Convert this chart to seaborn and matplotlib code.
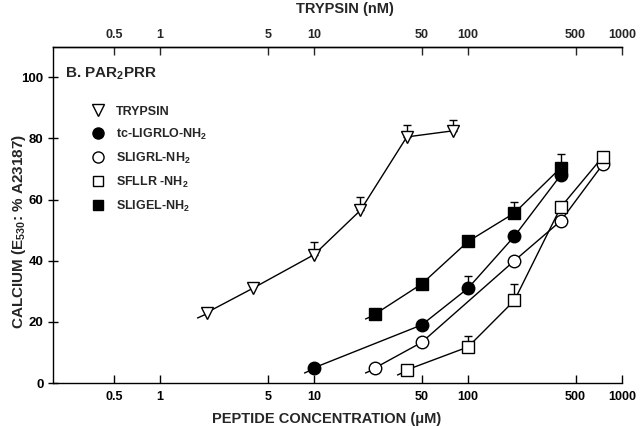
import numpy as np
import pandas as pd
import matplotlib
matplotlib.use("Agg")
import matplotlib.pyplot as plt
import seaborn as sns
from matplotlib.lines import Line2D
from matplotlib.path import Path

# ---- data ----
tryp_x = [2, 4, 10, 20, 40, 80]
tryp_y = [23, 31, 42, 56.5, 80.5, 82.5]
tryp_err = [np.nan, np.nan, 4, 4.5, 4, 3.5]

tc_x = [10, 50, 100, 200, 400]
tc_y = [5, 19, 31, 48, 68]
tc_err = [np.nan, np.nan, 4, np.nan, 4]

sligrl_x = [25, 50, 200, 400, 750]
sligrl_y = [5, 13.3, 40, 53, 71.5]
sligrl_err = [np.nan, np.nan, np.nan, np.nan, np.nan]

sfllr_x = [40, 100, 200, 400, 750]
sfllr_y = [4.3, 11.8, 27, 57.5, 74]
sfllr_err = [np.nan, 3.5, 5.5, np.nan, np.nan]

sligel_x = [25, 50, 100, 200, 400]
sligel_y = [22.6, 32.4, 46.3, 55.6, 70.4]
sligel_err = [np.nan, np.nan, np.nan, 3.5, 4.5]

series_names = ["TRYPSIN", "tc-LIGRLO-NH$_2$", "SLIGRL-NH$_2$", "SFLLR -NH$_2$", "SLIGEL-NH$_2$"]
xticks = [0.5, 1, 5, 10, 50, 100, 500, 1000]
xticklabels = ["0.5", "1", "5", "10", "50", "100", "500", "1000"]
yticks = [0, 20, 40, 60, 80, 100]

sns.set_style("ticks")
plt.rcParams["font.family"] = ["Liberation Sans", "DejaVu Sans"]
plt.rcParams["mathtext.fontset"] = "custom"
plt.rcParams["mathtext.rm"] = "Liberation Sans:bold"
plt.rcParams["mathtext.it"] = "Liberation Sans:italic:bold"
plt.rcParams["mathtext.bf"] = "Liberation Sans:bold"
plt.rcParams["font.weight"] = "bold"

fig = plt.figure(figsize=(6.4, 4.26), dpi=100)
ax = fig.add_axes([0.0823, 0.1009, 0.8895, 0.7894])

styles = [
    (tryp_x, tryp_y, tryp_err, "v", "white", 9),
    (tc_x, tc_y, tc_err, "o", "black", 9),
    (sligrl_x, sligrl_y, sligrl_err, "o", "white", 9),
    (sfllr_x, sfllr_y, sfllr_err, "s", "white", 8.5),
    (sligel_x, sligel_y, sligel_err, "s", "black", 8.5),
]

# short lead-in stroke drawn at each curve's first point (style only)
tail = Path([(0, 0), (-1.0, -0.45)], [Path.MOVETO, Path.LINETO])

for name, (xs, ys, es, mk, fc, ms) in zip(series_names, styles):
    df = pd.DataFrame({"x": xs, "y": ys, "e": es})
    ee = df.dropna(subset=["e"])
    if len(ee):
        ax.errorbar(ee["x"], ee["y"], yerr=[np.zeros(len(ee)), ee["e"]],
                    fmt="none", ecolor="black", elinewidth=1, capsize=3,
                    capthick=1, zorder=1)
    ax.plot(df["x"].iloc[:1], df["y"].iloc[:1], linestyle="none", marker=tail,
            markersize=15, markeredgewidth=1, color="black", zorder=2)
    sns.lineplot(data=df, x="x", y="y", ax=ax, color="black", lw=1,
                 marker=mk, markerfacecolor=fc, markeredgecolor="black",
                 markeredgewidth=1, markersize=ms, zorder=3, legend=False)

ax.set_xscale("log")
ax.set_xlim(0.2, 1000)
ax.set_ylim(0, 110)
ax.set_xticks(xticks)
ax.set_xticklabels(xticklabels)
ax.xaxis.set_minor_locator(matplotlib.ticker.NullLocator())
ax.set_yticks(yticks)
ax.tick_params(axis="x", direction="in", length=6, width=1, pad=6, labelsize=9, colors="black")
ax.tick_params(axis="y", direction="inout", length=7, width=1, pad=3, labelsize=9.5, colors="black")
ax.spines["right"].set_visible(False)
for s in ["left", "bottom", "top"]:
    ax.spines[s].set_linewidth(1)
    ax.spines[s].set_color("black")

sec = ax.secondary_xaxis("top")
sec.set_xticks(xticks)
sec.set_xticklabels(xticklabels)
sec.xaxis.set_minor_locator(matplotlib.ticker.NullLocator())
sec.tick_params(axis="x", direction="in", length=6, width=1, pad=4, labelsize=9)
sec.spines["top"].set_linewidth(1)
fig.text(0.539, 0.978, "TRYPSIN (nM)", fontsize=10.5, fontweight="bold",
         ha="center", va="center")

ax.set_xlabel("PEPTIDE CONCENTRATION (μM)", fontsize=10.5, fontweight="bold")
ax.xaxis.set_label_coords(0.481, -0.085)
ax.set_ylabel("CALCIUM (E$_{530}$: % A23187)", fontsize=11, fontweight="bold")
ax.yaxis.set_label_coords(-0.043, 0.45)

ax.text(0.022, 0.92, "B. PAR$_2$PRR", transform=ax.transAxes, fontsize=11,
        ha="left", va="center", fontweight="bold")

handles = []
for name, (xs, ys, es, mk, fc, ms) in zip(series_names, styles):
    handles.append(Line2D([], [], linestyle="none", marker=mk, markersize=ms - 1,
                          markerfacecolor=fc, markeredgecolor="black",
                          markeredgewidth=1))
leg = ax.legend(handles, series_names, loc="upper left",
                bbox_to_anchor=(0.058, 0.84), frameon=False,
                prop={"size": 9, "weight": "bold"},
                handletextpad=0.8, labelspacing=0.72, borderaxespad=0,
                handlelength=1.2)

fig.savefig("out.png", dpi=100)
